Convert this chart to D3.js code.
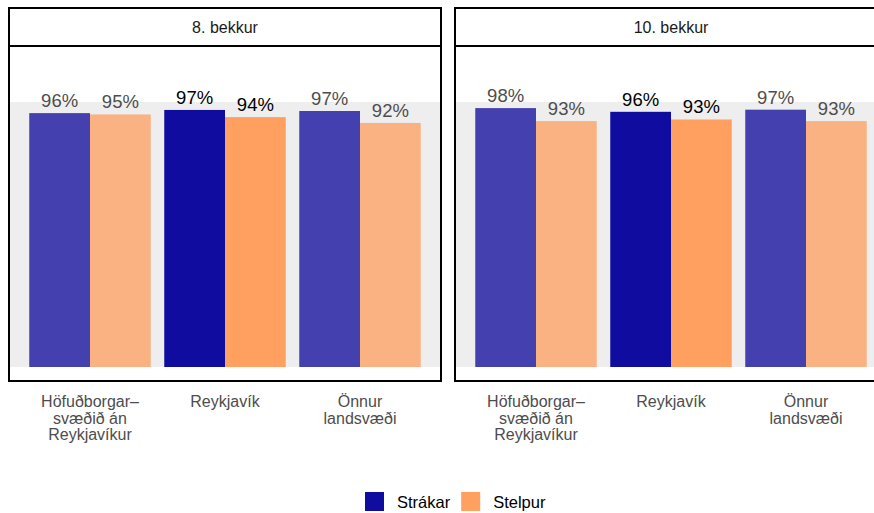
<!DOCTYPE html>
<html>
<head>
<meta charset="utf-8">
<script src="https://cdn.jsdelivr.net/npm/d3@7"></script>
<style>
  html, body { margin: 0; padding: 0; background: #fff; }
  svg { display: block; font-family: "Liberation Sans", Arial, sans-serif; }
</style>
</head>
<body>
<svg id="chart" width="874" height="513"></svg>
<script>
// ---- Data ----
const grades = ["8. bekkur", "10. bekkur"];
const categories = ["Höfuðborgar–svæðið án Reykjavíkur", "Reykjavík", "Önnur landsvæði"];
const categoryLines = [["Höfuðborgar–", "svæðið án", "Reykjavíkur"], ["Reykjavík"], ["Önnur", "landsvæði"]];
const genders = ["Strákar", "Stelpur"];
const strakar8 = [0.958, 0.970, 0.966];
const stelpur8 = [0.953, 0.943, 0.921];
const strakar10 = [0.977, 0.963, 0.971];
const stelpur10 = [0.928, 0.934, 0.928];
const highlight = "Reykjavík";

const values = [[strakar8, stelpur8], [strakar10, stelpur10]];

const colors = {
  "Strákar": { hi: "#100ca0", lo: "#4540b0" },
  "Stelpur": { hi: "#ffa060", lo: "#fbb282" }
};

const svg = d3.select("#chart");

const panelW = 432, panelTop = 8, stripBottom = 46, panelBottom = 381;
const panelLefts = [9, 455];

const y = d3.scaleLinear().domain([0, 1]).range([367, 102]);

grades.forEach((grade, gi) => {
  const left = panelLefts[gi];
  const g = svg.append("g");
  const x0 = d3.scaleBand().domain(categories).range([left, left + panelW])
    .paddingInner(0.1).paddingOuter(0.15);
  const x1 = d3.scaleBand().domain(genders).range([0, x0.bandwidth()]).padding(0);

  // reference band 0..100%
  g.append("rect")
    .attr("x", left).attr("width", panelW)
    .attr("y", y(1)).attr("height", y(0) - y(1))
    .attr("fill", "#eeeeee");

  const rows = [];
  categories.forEach((c, ci) => {
    genders.forEach((s, si) => {
      rows.push({ cat: c, sex: s, v: values[gi][si][ci] });
    });
  });

  g.selectAll("rect.bar").data(rows).join("rect")
    .attr("class", "bar")
    .attr("x", d => x0(d.cat) + x1(d.sex))
    .attr("width", x1.bandwidth())
    .attr("y", d => y(d.v))
    .attr("height", d => y(0) - y(d.v))
    .attr("fill", d => d.cat === highlight ? colors[d.sex].hi : colors[d.sex].lo);

  g.selectAll("text.val").data(rows).join("text")
    .attr("class", "val")
    .attr("x", d => x0(d.cat) + x1(d.sex) + x1.bandwidth() / 2)
    .attr("y", d => y(d.v) - 6)
    .attr("text-anchor", "middle")
    .attr("font-size", 18.5)
    .attr("fill", d => d.cat === highlight ? "#000000" : "#4d4d4d")
    .text(d => Math.round(d.v * 100) + "%");

  // panel border
  g.append("rect")
    .attr("x", left).attr("y", panelTop)
    .attr("width", panelW).attr("height", panelBottom - panelTop)
    .attr("fill", "none").attr("stroke", "#000").attr("stroke-width", 2);
  g.append("line")
    .attr("x1", left).attr("x2", left + panelW)
    .attr("y1", stripBottom).attr("y2", stripBottom)
    .attr("stroke", "#000").attr("stroke-width", 2);
  g.append("text")
    .attr("x", left + panelW / 2).attr("y", (panelTop + stripBottom) / 2 + 5.5)
    .attr("text-anchor", "middle").attr("font-size", 16).attr("fill", "#1a1a1a")
    .text(grade);

  // x axis labels
  categories.forEach((c, ci) => {
    const t = g.append("text")
      .attr("text-anchor", "middle").attr("font-size", 16).attr("fill", "#4d4d4d");
    categoryLines[ci].forEach((line, li) => {
      t.append("tspan")
        .attr("x", x0(c) + x0.bandwidth() / 2)
        .attr("y", 407 + li * 16.7)
        .text(line);
    });
  });
});

// legend
const legend = svg.append("g");
let lx = 365;
genders.forEach(s => {
  legend.append("rect").attr("x", lx).attr("y", 492).attr("width", 19).attr("height", 19)
    .attr("fill", colors[s].hi);
  const t = legend.append("text").attr("x", lx + 32).attr("y", 507.5)
    .attr("font-size", 16.5).attr("fill", "#000").text(s);
  lx = lx + 32 + t.node().getComputedTextLength() + 11;
});
</script>
</body>
</html>
